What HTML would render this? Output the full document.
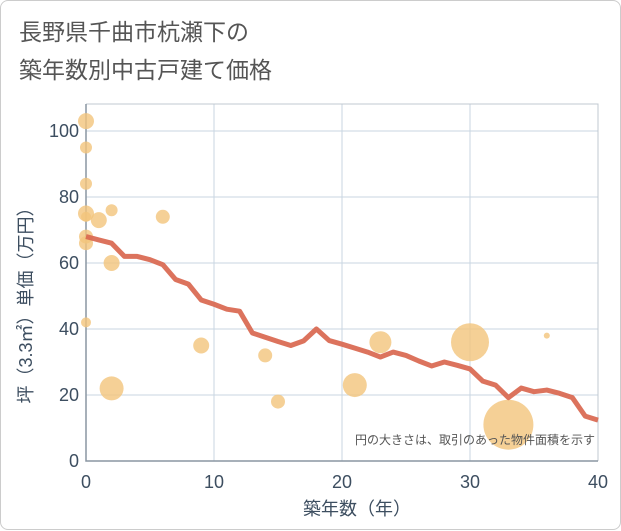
<!DOCTYPE html>
<html><head><meta charset="utf-8"><style>
body{margin:0;background:#fff}
.wrap{width:619px;height:528px;border:1px solid #ccc;border-radius:8px;position:relative;font-family:"Liberation Sans","Noto Sans CJK JP",sans-serif;color:#555}
.title{position:absolute;left:18px;top:12px;font-size:23px;line-height:38px;color:#555}
svg{position:absolute;left:0;top:0}
</style></head><body>
<div class="wrap">
<div class="title">長野県千曲市杭瀬下の<br>築年数別中古戸建て価格</div>
<svg id="c" width="621" height="530"></svg>
</div>
<script>
const xTicks=[0,10,20,30,40];
const yTicks=[0,20,40,60,80,100];
const lineX=[0,1,2,3,4,5,6,7,8,9,10,11,12,13,14,15,16,17,18,19,20,21,22,23,24,25,26,27,28,29,30,31,32,33,34,35,36,37,38,39,40];
const lineY=[68,67,66,62,62,61,59.5,55,53.6,48.8,47.5,46,45.4,38.8,37.5,36.2,35,36.4,40,36.5,35.4,34.2,33,31.5,33,32,30.3,28.8,30,29,27.9,24.2,23,19.2,22.1,21,21.5,20.5,19.2,13.6,12.4];
const bubX=[0,0,0,0,0,0,0,0,1,2,2,2,6,9,14,15,21,23,30,33,36];
const bubY=[103,95,84,75,74,68,66,42,73,76,60,22,74,35,32,18,23,36,36,11,38];
const bubR=[8,6,6,8,5,7,7,5,8,6,8,12,7,8,7,7,12,11,19,25,3];
const NS="http://www.w3.org/2000/svg";
const svg=document.getElementById('c');
const L=85,R=597,T=103,B=460;
const sx=v=>L+(v-0)/40*(R-L);
const sy=v=>B-v*3.3;
function mk(t,a){const e=document.createElementNS(NS,t);for(const k in a)e.setAttribute(k,a[k]);svg.appendChild(e);return e;}
xTicks.forEach(t=>{
 const g=mk('line',{x1:sx(t),x2:sx(t),y1:T,y2:B,stroke:'#c8d6e2','stroke-width':1});
 
 
 const tx=mk('text',{x:sx(t),y:487,'text-anchor':'middle','font-size':18,fill:'#3d4e60'});
 tx.textContent=t;
 
 
});
yTicks.forEach(t=>{
 const g=mk('line',{x1:L,x2:R,y1:sy(t),y2:sy(t),stroke:'#c8d6e2','stroke-width':1});
 
 
 const tx=mk('text',{x:78,y:sy(t)+6,'text-anchor':'end','font-size':18,fill:'#3d4e60'});
 tx.textContent=t;
 
 
});
const fr=mk('path',{d:`M${L} ${T}H${R}V${B}`,fill:'none',stroke:'#c0c8d0','stroke-width':1});


const ax=mk('path',{d:`M${L} ${T}V${B}H${R}`,fill:'none',stroke:'#8a96a2','stroke-width':1.5});


bubX.forEach((x,i)=>{
 const c=mk('circle',{cx:sx(x),cy:sy(bubY[i]),r:bubR[i],fill:'#f3c47c','fill-opacity':0.8});
 
 
});
const pl=mk('polyline',{points:lineX.map((x,i)=>sx(x)+','+sy(lineY[i])).join(' '),fill:'none',stroke:'#d9674f','stroke-width':5,'stroke-linejoin':'round','stroke-opacity':0.92});


const note=mk('text',{x:594,y:443,'text-anchor':'end','font-size':12,fill:'#555'});
note.textContent='円の大きさは、取引のあった物件面積を示す';


const xt=mk('text',{x:356,y:514,'text-anchor':'middle','font-size':18,fill:'#3d4e60'});
xt.textContent='築年数（年）';


const yt=mk('text',{x:0,y:0,'text-anchor':'middle','font-size':18,fill:'#3d4e60',transform:'translate(31,300) rotate(-90)'});
yt.textContent='坪（3.3㎡）単価（万円）';


</script>
</body></html>
